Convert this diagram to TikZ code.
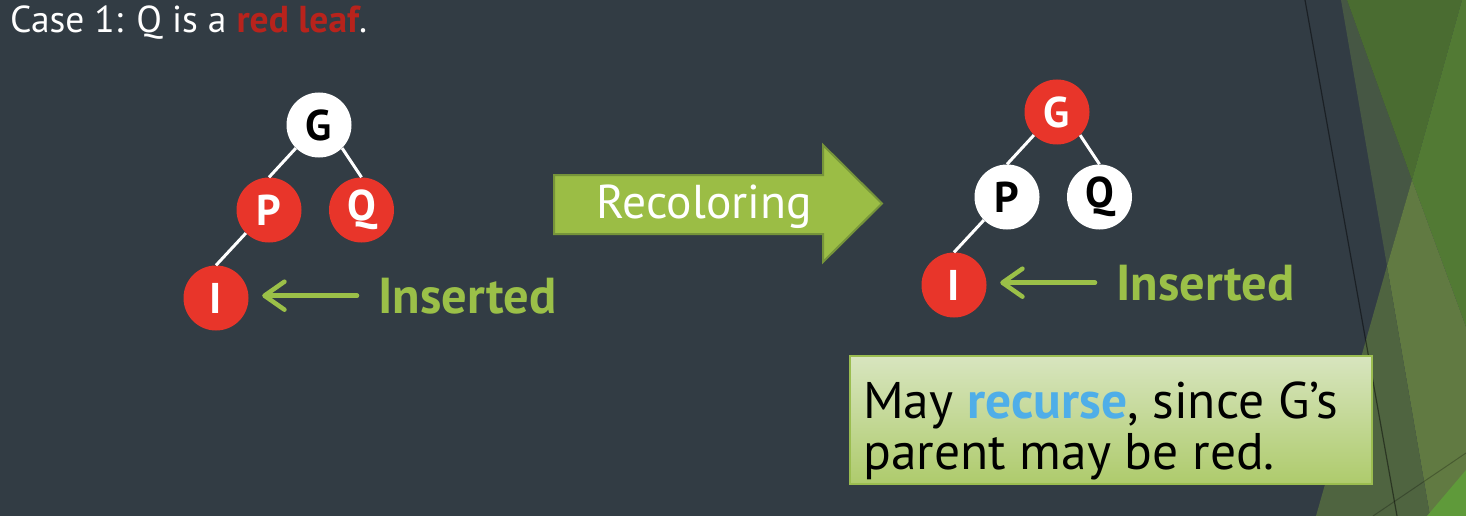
\documentclass[tikz,border=0pt]{standalone}
\usepackage{fontspec}
\setmainfont{PT Sans}
\usetikzlibrary{arrows.meta}
\definecolor{bg}{HTML}{323C44}
\definecolor{nodered}{HTML}{E8352A}
\definecolor{lgreen}{HTML}{9BC048}
\definecolor{arrowfill}{HTML}{9BBD45}
\definecolor{arrowedge}{HTML}{76943A}
\definecolor{titlered}{HTML}{B8231C}
\definecolor{recblue}{HTML}{4FAEE8}
\definecolor{boxtop}{HTML}{D8E5BF}
\definecolor{boxbot}{HTML}{AECB6C}
\definecolor{boxborder}{HTML}{9BBD50}
\definecolor{rA}{HTML}{465744}
\definecolor{rB}{HTML}{4A6C31}
\definecolor{rC}{HTML}{527A34}
\definecolor{rD}{HTML}{617A42}
\definecolor{rE}{HTML}{4F6440}
\definecolor{rF}{HTML}{5F9A3A}
\tikzset{
  tnode/.style={circle, minimum size=65pt, inner sep=0pt, font=\fontsize{43}{50}\selectfont\bfseries},
  rb/.style={tnode, fill=nodered, text=white},
  wb/.style={tnode, fill=white, text=black},
  edge/.style={draw=white, line width=3pt},
  insarrow/.style={draw=lgreen, line width=4.5pt, line cap=round, -{Straight Barb[length=20pt,width=28pt,round]}},
  instext/.style={text=lgreen, font=\fontsize{50.5}{60}\selectfont\bfseries, inner sep=0pt, anchor=base west},
  calltext/.style={text=black, font=\fontsize{51.5}{52}\selectfont, inner sep=0pt, anchor=base west},
}
\begin{document}
\begin{tikzpicture}[x=1pt,y=-1pt]
\useasboundingbox (0,0) rectangle (1466,516);
\fill[bg] (0,0) rectangle (1466,516);
% right-hand decoration
\fill[rA] (1341,0) -- (1347,0) -- (1412,180) -- (1387,266) -- cycle;
\fill[rB] (1347,0) -- (1462,0) -- (1412,180) -- cycle;
\fill[rC] (1462,0) -- (1466,0) -- (1466,327) -- (1412,180) -- cycle;
\fill[rD] (1387,266) -- (1412,180) -- (1466,327) -- (1466,516) -- (1430,516) -- cycle;
\fill[rE] (1387,266) -- (1430,516) -- (1316,516) -- cycle;
\fill[rF] (1427,516) -- (1466,470) -- (1466,516) -- cycle;
\draw[black, opacity=0.45, line width=1.2pt] (1305,0) -- (1397,516);
\draw[black, opacity=0.25, line width=1pt] (1466,453) -- (1373,516);
% title
\node[anchor=base west, inner sep=0pt, text=white, font=\fontsize{37.5}{45}\selectfont] (title) at (10,33) {Case 1: Q is a {\bfseries\color{titlered}red leaf}.};
% left tree
\node[wb] (G1) at (319,125) {G};
\node[rb] (P1) at (269,210) {P};
\node[rb] (Q1) at (361.5,210) {Q};
\node[rb] (I1) at (216,298) {I};
\draw[edge] (G1.225) -- (P1.north);
\draw[edge] (G1.315) -- (Q1.north);
\draw[edge] (P1.225) -- (I1.north);
\node[instext] (ins1) at (378,313) {Inserted};
\draw[insarrow, shorten <=21pt, shorten >=13.5pt] (ins1.west) -- (I1.east |- ins1.west);
% recoloring arrow
\filldraw[fill=arrowfill, draw=arrowedge, line width=2pt, line join=miter]
  (554,175) -- (823,175) -- (823,145) -- (882,203.5) -- (823,262) -- (823,234) -- (554,234) -- cycle;
\node[anchor=base, inner sep=0pt, text=white, font=\fontsize{47.5}{56}\selectfont] (rec) at (704.5,218) {Recoloring};
% right tree
\node[rb] (G2) at (1057,112) {G};
\node[wb] (P2) at (1007,197) {P};
\node[wb] (Q2) at (1099.5,197) {Q};
\node[rb] (I2) at (954,285) {I};
\draw[edge] (G2.225) -- (P2.north);
\draw[edge] (G2.315) -- (Q2.north);
\draw[edge] (P2.225) -- (I2.north);
\node[instext] (ins2) at (1116,300) {Inserted};
\draw[insarrow, shorten <=21pt, shorten >=13.5pt] (ins2.west) -- (I2.east |- ins2.west);
% callout
\node[draw=boxborder, line width=2pt, top color=boxtop, bottom color=boxbot, minimum width=522pt, minimum height=128pt, anchor=north west, inner sep=0pt] (box) at (849,355) {};
\node[calltext] (c1) at (863,418) {May {\bfseries\color{recblue}recurse}, since G’s};
\node[calltext] (c2) at (863,469) {parent may be red.};
\end{tikzpicture}
\end{document}
